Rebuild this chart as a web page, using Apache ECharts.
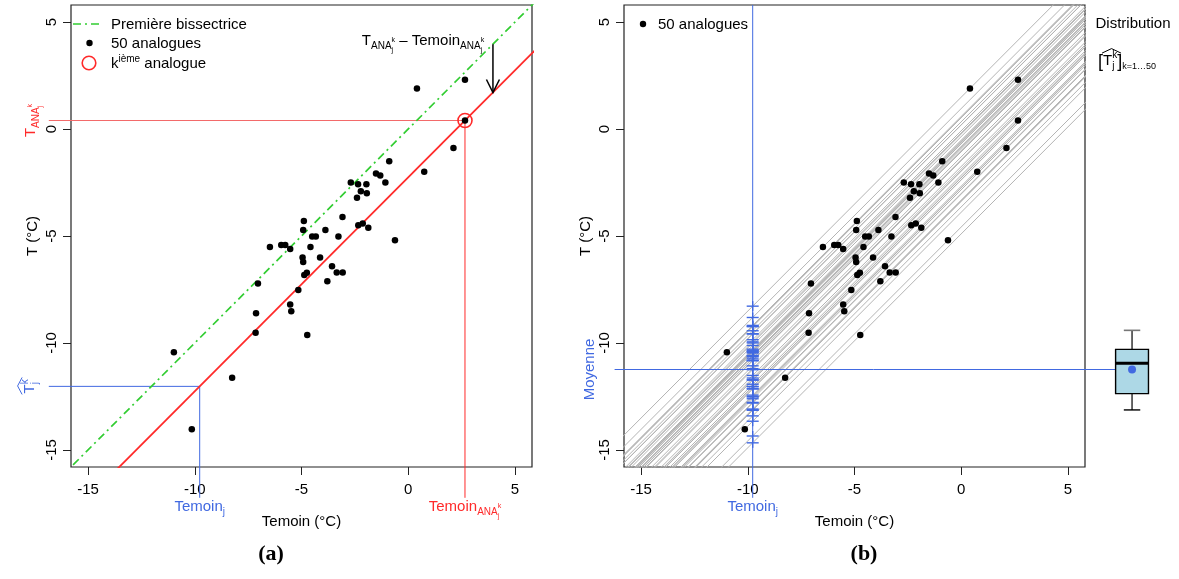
<!DOCTYPE html>
<html><head><meta charset="utf-8">
<script src="https://cdn.jsdelivr.net/npm/echarts@6/dist/echarts.min.js"></script>
<style>html,body{margin:0;padding:0;background:#fff}#c{width:1179px;height:579px}</style>
</head><body><div id="c"></div>
<script>
// ---- data ----
const temoin = [0.41,2.66,2.66,2.12,0.75,-0.89,-1.51,-1.31,-1.07,-2.69,-2.35,-1.96,-2.22,-1.94,-2.40,-3.08,-2.34,-2.13,-1.87,-4.89,-4.92,-3.88,-4.50,-4.33,-3.27,-0.62,-6.48,-5.95,-5.76,-5.53,-4.58,-4.95,-4.92,-4.13,-3.57,-3.35,-3.07,-4.75,-4.87,-3.79,-7.04,-5.15,-5.53,-5.48,-7.13,-7.15,-4.73,-10.98,-8.25,-10.14];
const tAna = [1.90,2.31,0.40,-0.89,-2.00,-1.50,-2.08,-2.17,-2.50,-2.50,-2.58,-2.58,-2.91,-3.00,-3.21,-4.11,-4.50,-4.41,-4.61,-4.30,-4.72,-4.72,-5.02,-5.02,-5.02,-5.20,-5.52,-5.42,-5.42,-5.61,-5.52,-6.00,-6.22,-6.00,-6.41,-6.71,-6.71,-6.72,-6.82,-7.11,-7.22,-7.53,-8.20,-8.52,-8.61,-9.52,-9.63,-10.43,-11.63,-14.03];
const temoinJ = -9.77;      // Temoin_j
const kSel = 2;             // index of the k-th analogue highlighted
const tickValues = [-15, -10, -5, 0, 5];
const axisMin = -15.8, axisMax = 5.8;
const arrowX = 3.97;        // x where the offset arrow is drawn
const boxX = 8.0;           // x (in overlay grid) of the boxplot
const boxHalf = 0.77;

// ---- derived ----
const offsets = temoin.map((t, i) => tAna[i] - t);
const tHat = offsets.map(d => temoinJ + d);
const dk = offsets[kSel];
const sorted = tHat.slice().sort((a, b) => a - b);
function quantile(s, p) { const h = (s.length - 1) * p, lo = Math.floor(h); const hi = Math.min(lo + 1, s.length - 1); return s[lo] + (h - lo) * (s[hi] - s[lo]); }
const boxStats = [quantile(sorted, 0.1), quantile(sorted, 0.25), quantile(sorted, 0.5), quantile(sorted, 0.75), quantile(sorted, 0.9)];
const meanHat = tHat.reduce((a, b) => a + b, 0) / tHat.length;

const FONT = '"Liberation Sans", Arial, Helvetica, sans-serif';
const FS = 15;
const RED = '#ff2a2a', BLUE = '#4169e1', GREEN = '#32cd32';
const yAnnBelow = -17.24, xAnnLeft = -16.84, xMeanLeft = -16.24;

const chart = echarts.init(document.getElementById('c'), null, {renderer: 'canvas'});

function xAx(g, show) {
  if (!show) return {gridIndex: g, type: 'value', min: axisMin, max: 10.2, show: false};
  return {gridIndex: g, type: 'value', min: axisMin, max: axisMax,
    axisLine: {show: false, onZero: false}, splitLine: {show: false},
    axisTick: {show: true, length: 8, customValues: tickValues, lineStyle: {color: '#222', width: 1}},
    axisLabel: {customValues: tickValues, fontSize: FS, color: '#000', fontFamily: FONT, margin: 15},
    name: 'Temoin (°C)', nameLocation: 'middle', nameGap: 47,
    nameTextStyle: {fontSize: FS, color: '#000', fontFamily: FONT}};
}
function yAx(g, show) {
  if (!show) return {gridIndex: g, type: 'value', min: axisMin, max: axisMax, show: false};
  return {gridIndex: g, type: 'value', min: axisMin, max: axisMax,
    axisLine: {show: false, onZero: false}, splitLine: {show: false},
    axisTick: {show: true, length: 8, customValues: tickValues, lineStyle: {color: '#222', width: 1}},
    axisLabel: {customValues: tickValues, fontSize: FS, color: '#000', fontFamily: FONT, margin: 12, rotate: 90},
    name: 'T (°C)', nameLocation: 'middle', nameGap: 31, nameRotate: 90,
    nameTextStyle: {fontSize: FS, color: '#000', fontFamily: FONT}};
}
function seg(g, pts, color, width, type, clip, z) {
  return {type: 'line', xAxisIndex: g, yAxisIndex: g, data: pts, symbol: 'none', clip: clip, silent: true,
    lineStyle: {color: color, width: width, type: type || 'solid'}, z: z || 2};
}
const dotStyle = {color: '#000', opacity: 1};

const series = [];
// ---- panel (a) ----
series.push(seg(0, [[-30, -30], [30, 30]], GREEN, 1.7, [8, 4, 2, 4], true, 3));
series.push(seg(0, [[-30, -30 + dk], [30, 30 + dk]], RED, 1.8, 'solid', true, 3));
series.push({type: 'custom', xAxisIndex: 0, yAxisIndex: 0, data: [[arrowX, arrowX, arrowX + dk]], z: 4, silent: true,
  renderItem: function (p, api) {
    const a = api.coord([api.value(0), api.value(1)]), b = api.coord([api.value(0), api.value(2)]);
    return {type: 'group', children: [
      {type: 'line', shape: {x1: a[0], y1: a[1], x2: b[0], y2: b[1]}, style: {stroke: '#000', lineWidth: 1.5}},
      {type: 'polyline', shape: {points: [[b[0] - 6.5, b[1] - 13], [b[0], b[1]], [b[0] + 6.5, b[1] - 13]]}, style: {stroke: '#000', lineWidth: 1.5, fill: null}}
    ]};
  }});
series.push({type: 'scatter', xAxisIndex: 0, yAxisIndex: 0, data: temoin.map((t, i) => [t, tAna[i]]), symbolSize: 6.5, itemStyle: dotStyle, z: 5, silent: true});
series.push({type: 'scatter', xAxisIndex: 0, yAxisIndex: 0, data: [[temoin[kSel], tAna[kSel]]], symbolSize: 14, z: 6, silent: true,
  itemStyle: {color: 'rgba(0,0,0,0)', borderColor: RED, borderWidth: 1.6, opacity: 1}});

// ---- panel (b) ----
offsets.forEach(d => series.push(seg(1, [[-30, -30 + d], [30, 30 + d]], '#b4b4b4', 1, 'solid', true, 1)));
series.push({type: 'custom', xAxisIndex: 1, yAxisIndex: 1, data: tHat.map(v => [temoinJ, v]), z: 4, silent: true,
  renderItem: function (p, api) {
    const c = api.coord([api.value(0), api.value(1)]);
    return {type: 'group', children: [
      {type: 'line', shape: {x1: c[0] - 6, y1: c[1], x2: c[0] + 6, y2: c[1]}, style: {stroke: BLUE, lineWidth: 1.4}},
      {type: 'line', shape: {x1: c[0], y1: c[1] - 5, x2: c[0], y2: c[1] + 5}, style: {stroke: BLUE, lineWidth: 1.4}}
    ]};
  }});
series.push({type: 'scatter', xAxisIndex: 1, yAxisIndex: 1, data: temoin.map((t, i) => [t, tAna[i]]), symbolSize: 6.5, itemStyle: dotStyle, z: 5, silent: true});

// ---- overlay grid: boxplot ----
series.push({type: 'custom', xAxisIndex: 2, yAxisIndex: 2, data: [[boxX].concat(boxStats)], z: 4, silent: true,
  renderItem: function (p, api) {
    const x = api.value(0);
    const lo = api.coord([x - boxHalf, api.value(1)]), hi = api.coord([x + boxHalf, api.value(5)]);
    const q1 = api.coord([x, api.value(2)])[1], med = api.coord([x, api.value(3)])[1], q3 = api.coord([x, api.value(4)])[1];
    const cx = api.coord([x, 0])[0], w10 = lo[1], w90 = hi[1];
    const x0 = lo[0], x1 = hi[0], cap = (x1 - x0) / 4;
    return {type: 'group', children: [
      {type: 'line', shape: {x1: cx, y1: q3, x2: cx, y2: w90}, style: {stroke: '#000', lineWidth: 1.2}},
      {type: 'line', shape: {x1: cx, y1: q1, x2: cx, y2: w10}, style: {stroke: '#000', lineWidth: 1.2}},
      {type: 'line', shape: {x1: cx - cap, y1: w90, x2: cx + cap, y2: w90}, style: {stroke: '#777', lineWidth: 1.6}},
      {type: 'line', shape: {x1: cx - cap, y1: w10, x2: cx + cap, y2: w10}, style: {stroke: '#000', lineWidth: 1.4}},
      {type: 'rect', shape: {x: x0, y: q3, width: x1 - x0, height: q1 - q3}, style: {fill: '#add8e6', stroke: '#000', lineWidth: 1.4}},
      {type: 'line', shape: {x1: x0, y1: med, x2: x1, y2: med}, style: {stroke: '#000', lineWidth: 3}}
    ]};
  }});
series.push({type: 'scatter', xAxisIndex: 2, yAxisIndex: 2, data: [[boxX, meanHat]], symbolSize: 8, itemStyle: {color: BLUE, opacity: 1}, z: 6, silent: true});

const gridStyle = {show: true, borderColor: '#222', borderWidth: 1.2, backgroundColor: 'transparent', containLabel: false};
chart.setOption({
  animation: false,
  grid: [
    Object.assign({left: 71, top: 5, width: 461, height: 462}, gridStyle),
    Object.assign({left: 624, top: 5, width: 461, height: 462}, gridStyle),
    {left: 624, top: 5, width: 555, height: 462, show: false}
  ],
  xAxis: [xAx(0, true), xAx(1, true), xAx(2, false)],
  yAxis: [yAx(0, true), yAx(1, true), yAx(2, false)],
  series: series
});

// ---- annotations ----
const P = (g, x, y) => chart.convertToPixel({gridIndex: g}, [x, y]);
const mctx = document.createElement('canvas').getContext('2d');
function tw(t, s, w) { mctx.font = (w || 'normal') + ' ' + s + 'px ' + FONT; return mctx.measureText(t).width; }
function mathText(pieces, color, px, py, opt) {
  opt = opt || {};
  const base = opt.base || FS;
  let x = 0, lastStart = 0; const kids = [];
  pieces.forEach(p => {
    const s = p.s || base, dy = p.dy || 0, w = tw(p.t, s, p.w);
    const sx = p.stack ? lastStart : x;
    kids.push({type: 'text', x: sx, y: dy + 0.21 * s, style: {text: p.t, fontSize: s, fontFamily: FONT, fontWeight: p.w || 'normal', fill: color,
      textAlign: 'left', textVerticalAlign: 'bottom', align: 'left', verticalAlign: 'bottom'}});
    if (p.hat) {
      const hw = p.hatW || w;
      kids.push({type: 'polyline', shape: {points: [[sx - 1, -0.82 * s], [sx + hw / 2, -1.12 * s], [sx + hw + 1, -0.82 * s]]}, style: {stroke: color, lineWidth: 1, fill: null}});
    }
    lastStart = sx; x = Math.max(x, sx + w);
  });
  const W = x;
  const ox = opt.align === 'left' ? 0 : (opt.align === 'right' ? -W : -W / 2);
  const oy = 0.36 * base;
  kids.forEach(k => {
    if (k.type === 'text') { k.x += ox; k.y += oy; }
    else k.shape.points = k.shape.points.map(q => [q[0] + ox, q[1] + oy]);
  });
  return {type: 'group', x: px, y: py, rotation: opt.rot || 0, children: kids, silent: true};
}
function gLine(g, p1, p2, color, w) {
  const a = P(g, p1[0], p1[1]), b = P(g, p2[0], p2[1]);
  return {type: 'line', shape: {x1: a[0], y1: a[1], x2: b[0], y2: b[1]}, style: {stroke: color, lineWidth: w || 1}, silent: true, z: 3};
}
const ANAjk = [{t: 'ANA', s: 10, dy: 4}, {t: 'k', s: 7, dy: -3}, {t: 'j', s: 7, dy: 7, stack: true}];
const g = [];
// guide lines (extend beyond the plot frame)
g.push(gLine(0, [xAnnLeft, tAna[kSel]], [temoin[kSel], tAna[kSel]], '#f36a6a', 1));
g.push(gLine(0, [temoin[kSel], tAna[kSel]], [temoin[kSel], yAnnBelow], RED, 1));
g.push(gLine(0, [xAnnLeft, tHat[kSel]], [temoinJ, tHat[kSel]], BLUE, 1));
g.push(gLine(0, [temoinJ, tHat[kSel]], [temoinJ, yAnnBelow], BLUE, 1));
g.push(gLine(1, [temoinJ, axisMax], [temoinJ, yAnnBelow], BLUE, 1));
g.push(gLine(2, [xMeanLeft, meanHat], [boxX, meanHat], BLUE, 1));
// panel (a) labels
g.push(mathText([{t: 'T'}].concat(ANAjk), RED, 30, P(0, 0, tAna[kSel])[1], {rot: Math.PI / 2}));
g.push(mathText([{t: 'T', hat: true, hatW: 15}, {t: 'k', s: 10, dy: -6}, {t: 'j', s: 10, dy: 4, stack: true}], BLUE, 29, P(0, 0, tHat[kSel])[1], {rot: Math.PI / 2}));
g.push(mathText([{t: 'Temoin'}, {t: 'j', s: 10, dy: 4}], BLUE, P(0, temoinJ, 0)[0], 506));
g.push(mathText([{t: 'Temoin'}].concat(ANAjk), RED, P(0, temoin[kSel], 0)[0], 506));
g.push(mathText([{t: 'T'}].concat(ANAjk, [{t: ' \u2013 Temoin'}], ANAjk), '#000', 423, 40));
// legend (a)
g.push({type: 'line', shape: {x1: 73, y1: 24, x2: 101, y2: 24}, style: {stroke: GREEN, lineWidth: 1.7, lineDash: [8, 4, 2, 4]}, silent: true});
g.push(mathText([{t: 'Première bissectrice'}], '#000', 111, 24, {align: 'left'}));
g.push({type: 'circle', shape: {cx: 89.5, cy: 43, r: 3.2}, style: {fill: '#000'}, silent: true});
g.push(mathText([{t: '50 analogues'}], '#000', 111, 43, {align: 'left'}));
g.push({type: 'circle', shape: {cx: 89, cy: 63, r: 6.8}, style: {fill: null, stroke: RED, lineWidth: 1.6}, silent: true});
g.push(mathText([{t: 'k'}, {t: 'ième', s: 10, dy: -6}, {t: ' analogue'}], '#000', 111, 63, {align: 'left'}));
// panel (b) labels
g.push({type: 'circle', shape: {cx: 643, cy: 24, r: 3.2}, style: {fill: '#000'}, silent: true});
g.push(mathText([{t: '50 analogues'}], '#000', 658, 24, {align: 'left'}));
g.push(mathText([{t: 'Moyenne'}], BLUE, 589, P(1, 0, meanHat)[1], {rot: Math.PI / 2}));
g.push(mathText([{t: 'Temoin'}, {t: 'j', s: 10, dy: 4}], BLUE, P(1, temoinJ, 0)[0], 506));
g.push(mathText([{t: 'Distribution'}], '#000', 1133, 23));
g.push(mathText([{t: '[', s: 18, dy: 2}, {t: 'T', hat: true, hatW: 17}, {t: 'k', s: 10, dy: -7}, {t: 'j', s: 10, dy: 4, stack: true}, {t: ']', s: 18, dy: 2}, {t: 'k=1…50', s: 9, dy: 4}], '#000', 1127, 60));
// panel titles
['(a)', '(b)'].forEach((t, i) => g.push({type: 'text', x: i ? 864 : 271, y: 554, silent: true,
  style: {text: t, fontSize: 22, fontWeight: 'bold', fontFamily: '"Liberation Serif", "DejaVu Serif", serif', fill: '#000', textAlign: 'center', textVerticalAlign: 'middle', align: 'center', verticalAlign: 'middle'}}));
chart.setOption({graphic: {elements: g}});
</script></body></html>
